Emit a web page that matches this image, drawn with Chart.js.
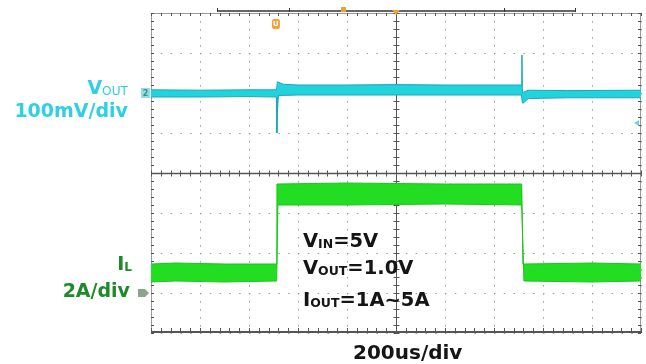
<!DOCTYPE html>
<html>
<head>
<meta charset="utf-8">
<script src="https://cdn.jsdelivr.net/npm/chart.js@4/dist/chart.umd.min.js"></script>
<style>
  body { margin: 0; background: #fff; }
  #wrap { position: relative; width: 646px; height: 364px; overflow: hidden; }
  canvas { position: absolute; left: 0; top: 0; }
  .lbl { position: absolute; font-family: "DejaVu Sans", sans-serif; font-weight: bold;
         line-height: 1; white-space: nowrap; }
  .sub { font-size: 0.64em; vertical-align: -0.08em; }
  .cyan { color: #2fd0e2; }
  .dkgreen { color: #1f8a2c; }
  .blk { color: #151515; }
</style>
</head>
<body>
<div id="wrap">
  <canvas id="scope" width="646" height="364"></canvas>
  <div class="lbl cyan" style="right:518px; top:78px; font-size:19px;">V<span class="sub" style="font-weight:normal;">OUT</span></div>
  <div class="lbl cyan" style="right:518px; top:101px; font-size:19px;">100mV/div</div>
  <div class="lbl dkgreen" style="right:514px; top:254px; font-size:19px;">I<span class="sub">L</span></div>
  <div class="lbl dkgreen" style="right:516px; top:281px; font-size:19px;">2A/div</div>
  <div class="lbl blk" style="left:303px; top:231px; font-size:19.5px;">V<span class="sub">IN</span>=5V</div>
  <div class="lbl blk" style="left:303px; top:258px; font-size:19.5px;">V<span class="sub">OUT</span>=1.0V</div>
  <div class="lbl blk" style="left:303px; top:290px; font-size:19.5px;">I<span class="sub">OUT</span>=1A~5A</div>
  <div class="lbl blk" style="left:353px; top:342px; font-size:20px;">200us/div</div>
</div>
<script>
// time base: 200 us/div, 10 divisions
const xTicks = [0, 200, 400, 600, 800, 1000, 1200, 1400, 1600, 1800, 2000];

// VOUT (ac, mV) upper / lower edge of the trace band, 100 mV/div
const vTime  = [0, 200, 400, 512, 514, 516, 520, 540, 600, 800, 1000, 1200, 1400, 1512, 1514, 1516, 1520, 1540, 1700, 2000];
const vUpper = [8, 7, 8, 8, 8, 28, 27, 22, 20, 20, 21, 20, 20, 20, 95, 0, 2, 7, 6, 7];
const vLower = [-10, -10, -9, -10, -100, -50, -6, -6, -5, -5, -5, -5, -5, -5, -5, -25, -25, -14, -12, -12];

// inductor current (A) upper / lower edge of ripple band, 2 A/div
const iTime  = [0, 100, 300, 513, 514, 518, 800, 1200, 1513, 1514, 1518, 1522, 1800, 2000];
const iUpper = [1.45, 1.5, 1.45, 1.45, 5.45, 5.45, 5.5, 5.45, 5.45, 5.45, 1.45, 1.45, 1.5, 1.45];
const iLower = [0.55, 0.6, 0.55, 0.6, 0.6, 4.4, 4.4, 4.45, 4.4, 4.4, 2.5, 0.6, 0.55, 0.6];

const CYAN = "#22d2dc";
const GREEN = "#22dd22";

const pts = (t, v) => t.map((x, i) => ({ x: x, y: v[i] }));

// frame, center cross with minor ticks, channel markers
const scopeFrame = {
  id: "scopeFrame",
  beforeDatasetsDraw(chart) {
    const { ctx, chartArea: a, scales: { x, y } } = chart;
    const cx = Math.round(x.getPixelForValue(1000)) + 0.5;
    const cy = Math.round(y.getPixelForValue(-200)) + 0.5;
    ctx.save();
    const line = (x1, y1, x2, y2) => { ctx.beginPath(); ctx.moveTo(x1, y1); ctx.lineTo(x2, y2); ctx.stroke(); };

    ctx.strokeStyle = "#9a9a9a";
    ctx.lineWidth = 1;
    ctx.strokeRect(a.left + 0.5, a.top + 0.5, a.width - 1, a.height - 1);

    ctx.strokeStyle = "#555";
    line(cx, a.top, cx, a.bottom);
    ctx.lineWidth = 1.5;
    line(a.left, cy, a.right, cy);
    ctx.lineWidth = 2;
    line(a.left, a.bottom - 1, a.right, a.bottom - 1);

    ctx.lineWidth = 1;
    for (let t = 0; t <= 2000; t += 40) {
      const px = Math.round(x.getPixelForValue(t)) + 0.5;
      line(px, cy - 3, px, cy + 3);
      line(px, a.bottom - 5, px, a.bottom);
      line(px, a.top, px, a.top + 3);
    }
    for (let v = -600; v <= 200; v += 20) {
      const py = Math.round(y.getPixelForValue(v)) + 0.5;
      line(cx - 3, py, cx + 3, py);
      line(a.left, py, a.left + 3, py);
      line(a.right - 3, py, a.right, py);
    }
    ctx.restore();
  },
  afterDraw(chart) {
    const { ctx, chartArea: a, scales: { x, y, y2 } } = chart;
    ctx.save();
    // channel 2 ground marker
    const vy = y.getPixelForValue(0);
    ctx.fillStyle = "#8fdce2";
    ctx.fillRect(a.left - 10, vy - 5, 9, 10);
    ctx.fillStyle = "#3a8f96";
    ctx.font = "bold 8px DejaVu Sans";
    ctx.textAlign = "center";
    ctx.textBaseline = "middle";
    ctx.fillText("2", a.left - 5.5, vy + 0.5);
    // current probe ground marker
    const iy = y2.getPixelForValue(0);
    ctx.fillStyle = "#8aa58a";
    ctx.beginPath();
    ctx.moveTo(a.left - 13, iy - 4);
    ctx.lineTo(a.left - 6, iy - 4);
    ctx.lineTo(a.left - 2, iy);
    ctx.lineTo(a.left - 6, iy + 4);
    ctx.lineTo(a.left - 13, iy + 4);
    ctx.closePath();
    ctx.fill();
    // right side level arrow
    ctx.fillStyle = "#5fd8e0";
    ctx.beginPath();
    const ry = y.getPixelForValue(-75);
    ctx.moveTo(a.right - 7, ry);
    ctx.lineTo(a.right - 2, ry - 3);
    ctx.lineTo(a.right - 2, ry + 3);
    ctx.closePath();
    ctx.fill();
    // top record-length bar and trigger markers
    ctx.strokeStyle = "#333";
    ctx.lineWidth = 1.5;
    ctx.beginPath();
    ctx.moveTo(217, 11); ctx.lineTo(575, 11);
    ctx.stroke();
    ctx.lineWidth = 1;
    [217, 289, 504, 575].forEach((px) => {
      ctx.beginPath(); ctx.moveTo(px + 0.5, 8); ctx.lineTo(px + 0.5, 12); ctx.stroke();
    });
    ctx.fillStyle = "#f0a030";
    const tx = x.getPixelForValue(1000);
    ctx.beginPath();
    ctx.moveTo(tx - 4, a.top - 3); ctx.lineTo(tx + 4, a.top - 3); ctx.lineTo(tx, a.top + 2);
    ctx.closePath(); ctx.fill();
    ctx.fillRect(341, 7, 5, 5);
    const ux = x.getPixelForValue(510);
    ctx.fillStyle = "#f3a23a";
    ctx.beginPath();
    ctx.roundRect(ux - 4, a.top + 6, 8, 10, 2);
    ctx.fill();
    ctx.fillStyle = "#fff";
    ctx.font = "bold 7px DejaVu Sans";
    ctx.fillText("U", ux, a.top + 11);
    ctx.restore();
  }
};

new Chart(document.getElementById("scope"), {
  type: "line",
  data: {
    datasets: [
      { data: pts(vTime, vUpper), yAxisID: "y", borderColor: "#17aab4", borderWidth: 1, pointRadius: 0, fill: false },
      { data: pts(vTime, vLower), yAxisID: "y", borderColor: "#17aab4", borderWidth: 1, pointRadius: 0, fill: "-1", backgroundColor: CYAN },
      { data: pts(iTime, iUpper), yAxisID: "y2", borderColor: "#1fc41f", borderWidth: 1, pointRadius: 0, fill: false },
      { data: pts(iTime, iLower), yAxisID: "y2", borderColor: "#1fc41f", borderWidth: 1, pointRadius: 0, fill: "-1", backgroundColor: GREEN },
    ],
  },
  options: {
    responsive: false,
    animation: false,
    events: [],
    layout: { padding: { left: 151, right: 5, top: 13, bottom: 31 } },
    plugins: { legend: { display: false }, tooltip: { enabled: false } },
    elements: { line: { tension: 0 } },
    scales: {
      x: {
        type: "linear",
        min: xTicks[0],
        max: xTicks[xTicks.length - 1],
        afterBuildTicks: (s) => { s.ticks = xTicks.map((v) => ({ value: v })); },
        ticks: { display: false },
        grid: { color: "#9c9c9c", lineWidth: 1, drawTicks: false },
        border: { display: false, dash: [1.5, 6.5] },
      },
      y: {
        min: -600,
        max: 200,
        ticks: { display: false, stepSize: 100 },
        grid: { color: "#9c9c9c", lineWidth: 1, drawTicks: false },
        border: { display: false, dash: [1.5, 8.3] },
      },
      y2: {
        display: false,
        min: -2,
        max: 14,
      },
    },
  },
  plugins: [scopeFrame],
});
</script>
</body>
</html>
